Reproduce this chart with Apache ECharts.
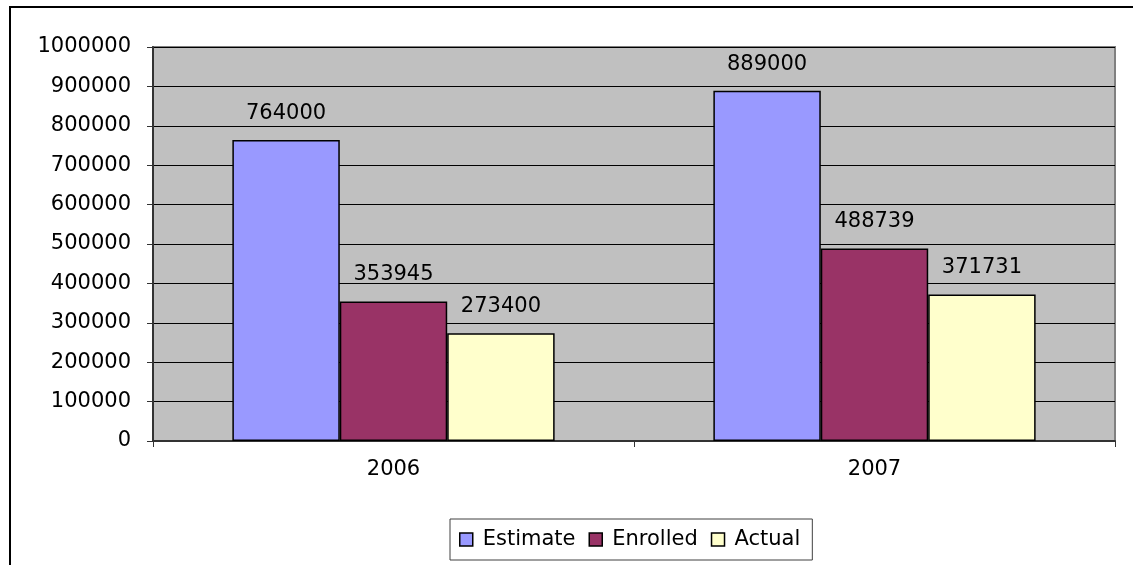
<!DOCTYPE html>
<html>
<head>
<meta charset="utf-8">
<style>
  html, body { margin: 0; padding: 0; background: #ffffff; }
  #chart { width: 1133px; height: 565px; }
</style>
<script src="https://cdn.jsdelivr.net/npm/echarts@6/dist/echarts.min.js"></script>
</head>
<body>
<div id="chart"></div>
<script>
const categories = ['2006', '2007'];
const seriesNames = ['Estimate', 'Enrolled', 'Actual'];
const estimate = [764000, 889000];
const enrolled = [353945, 488739];
const actual = [273400, 371731];
const seriesColors = ['#9999FF', '#993366', '#FFFFCC'];
const yMin = 0, yMax = 1000000, yInterval = 100000;

const FONT = 'DejaVu Sans';
const FS = 21;
const chart = echarts.init(document.getElementById('chart'), null, { renderer: 'canvas' });

const values = [estimate, enrolled, actual];
const series = seriesNames.map((name, i) => ({
  name: name,
  type: 'bar',
  data: values[i],
  barGap: '0%',
  barCategoryGap: '33%',
  itemStyle: { color: seriesColors[i], borderColor: '#000000', borderWidth: 1.5 },
  label: {
    show: true,
    position: 'top',
    distance: 16,
    color: '#000000',
    fontFamily: FONT,
    fontSize: FS
  },
  emphasis: { disabled: true }
}));

chart.setOption({
  animation: false,
  backgroundColor: '#ffffff',
  graphic: [{
    type: 'rect',
    shape: { x: 10, y: 7, width: 1300, height: 700 },
    style: { fill: 'none', stroke: '#000000', lineWidth: 2 },
    silent: true,
    z: 100
  }],
  grid: {
    left: 153, top: 47, width: 962, height: 394,
    show: true,
    backgroundColor: '#C0C0C0',
    borderColor: '#808080',
    borderWidth: 2
  },
  legend: {
    data: seriesNames,
    left: 450,
    top: 519,
    orient: 'horizontal',
    padding: [10, 12, 10, 9],
    itemGap: 13,
    itemWidth: 13,
    itemHeight: 13,
    icon: 'rect',
    borderColor: '#404040',
    borderWidth: 1,
    backgroundColor: '#ffffff',
    itemStyle: { borderColor: '#000000', borderWidth: 1.5 },
    textStyle: { fontFamily: FONT, fontSize: FS, color: '#000000', padding: [0, 0, 0, 5] }
  },
  xAxis: {
    type: 'category',
    data: categories,
    axisLine: { show: true, lineStyle: { color: '#333333', width: 2 } },
    axisTick: { show: true, alignWithLabel: false, length: 6, lineStyle: { color: '#333333', width: 1 } },
    axisLabel: { color: '#000000', fontFamily: FONT, fontSize: FS, margin: 18 },
    splitLine: { show: false }
  },
  yAxis: {
    type: 'value',
    min: yMin, max: yMax, interval: yInterval,
    axisLine: { show: true, lineStyle: { color: '#333333', width: 2 } },
    axisTick: { show: true, length: 6, lineStyle: { color: '#333333', width: 1 } },
    axisLabel: { color: '#000000', fontFamily: FONT, fontSize: FS, margin: 22, formatter: v => String(v) },
    splitLine: { show: true, lineStyle: { color: '#000000', width: 1 } }
  },
  series: series
});
</script>
</body>
</html>
